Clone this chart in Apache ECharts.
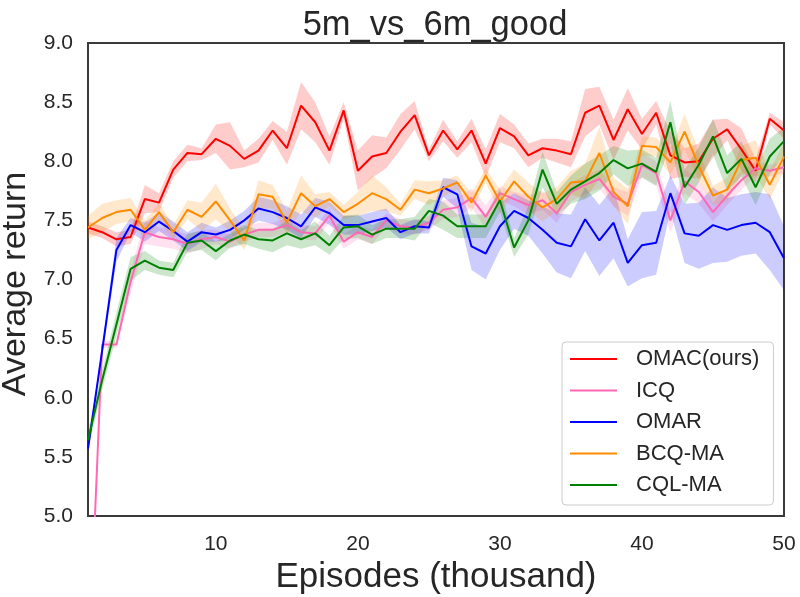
<!DOCTYPE html>
<html>
<head>
<meta charset="utf-8">
<title>5m_vs_6m_good</title>
<script src="https://cdn.jsdelivr.net/npm/echarts@6/dist/echarts.min.js"></script>
<style>
html, body { margin: 0; padding: 0; background: #fff; }
#chart { width: 800px; height: 597px; }
</style>
</head>
<body>
<div id="chart"></div>
<script>
// episodes (thousand)
var episodes = [1,2,3,4,5,6,7,8,9,10,11,12,13,14,15,16,17,18,19,20,21,22,23,24,25,
                26,27,28,29,30,31,32,33,34,35,36,37,38,39,40,41,42,43,44,45,46,47,48,49,50];
var xTickValues = [10, 20, 30, 40, 50];

// mean returns
var omac = [7.44,7.40,7.34,7.36,7.68,7.65,7.93,8.07,8.06,8.19,8.13,8.02,8.09,8.26,8.11,8.47,8.33,8.09,8.43,7.92,
            8.04,8.07,8.25,8.39,8.05,8.26,8.10,8.26,7.98,8.28,8.21,8.05,8.11,8.09,8.06,8.41,8.47,8.18,8.44,8.23,
            8.41,8.05,7.99,8.00,8.19,8.27,8.10,7.92,8.36,8.26];
var icq = [3.60,6.45,6.45,6.98,7.40,7.36,7.34,7.30,7.34,7.36,7.32,7.38,7.42,7.42,7.46,7.40,7.39,7.54,7.32,7.40,
           7.36,7.50,7.45,7.44,7.48,7.59,7.61,7.69,7.53,7.73,7.68,7.63,7.67,7.56,7.74,7.80,7.85,7.70,7.64,7.97,
           7.90,7.50,7.83,7.74,7.57,7.71,7.84,7.94,7.92,7.95];
var omar = [5.57,6.40,7.25,7.46,7.40,7.49,7.41,7.32,7.40,7.38,7.42,7.50,7.60,7.57,7.52,7.45,7.61,7.56,7.46,7.46,
            7.49,7.52,7.40,7.45,7.44,7.78,7.72,7.28,7.22,7.45,7.58,7.52,7.42,7.31,7.28,7.51,7.33,7.48,7.14,7.29,
            7.31,7.73,7.39,7.37,7.46,7.42,7.46,7.48,7.40,7.18];
var bcq = [7.44,7.52,7.57,7.59,7.42,7.57,7.40,7.59,7.53,7.66,7.50,7.33,7.72,7.70,7.48,7.73,7.62,7.68,7.57,7.64,
           7.73,7.68,7.59,7.76,7.73,7.77,7.82,7.65,7.88,7.66,7.83,7.70,7.61,7.68,7.82,7.83,8.07,7.74,7.62,8.13,
           8.12,7.99,8.25,7.96,7.71,7.76,8.01,8.03,7.80,8.04];
var cql = [5.64,6.15,6.62,7.09,7.16,7.10,7.08,7.31,7.33,7.24,7.33,7.38,7.34,7.33,7.39,7.34,7.39,7.29,7.44,7.45,
           7.38,7.43,7.43,7.43,7.58,7.54,7.45,7.45,7.45,7.67,7.27,7.50,7.93,7.64,7.76,7.83,7.90,8.01,7.94,7.98,
           7.91,8.33,7.78,7.97,8.21,7.90,8.02,7.78,8.04,8.17];

// half width of the shaded bands
var omacBand = [0.05,0.05,0.06,0.06,0.12,0.08,0.07,0.07,0.05,0.12,0.20,0.07,0.10,0.08,0.14,0.20,0.17,0.12,0.07,0.17,
                0.18,0.13,0.15,0.12,0.05,0.09,0.07,0.10,0.12,0.12,0.10,0.10,0.08,0.10,0.11,0.20,0.16,0.17,0.18,0.13,
                0.10,0.20,0.12,0.15,0.16,0.09,0.18,0.10,0.05,0.07];
var icqBand = [0.03,0.03,0.03,0.10,0.10,0.08,0.08,0.08,0.08,0.06,0.06,0.06,0.06,0.06,0.06,0.06,0.06,0.06,0.06,0.06,
               0.06,0.06,0.06,0.06,0.06,0.08,0.08,0.08,0.10,0.06,0.06,0.08,0.08,0.08,0.08,0.08,0.08,0.08,0.10,0.10,
               0.10,0.10,0.10,0.10,0.08,0.08,0.08,0.06,0.05,0.05];
var omarBand = [0.03,0.05,0.10,0.06,0.08,0.08,0.08,0.08,0.08,0.06,0.08,0.08,0.10,0.10,0.10,0.10,0.08,0.10,0.08,0.08,
                0.08,0.08,0.06,0.06,0.05,0.08,0.12,0.20,0.22,0.20,0.15,0.15,0.20,0.25,0.27,0.27,0.30,0.30,0.20,0.28,
                0.27,0.15,0.25,0.28,0.32,0.27,0.26,0.26,0.32,0.27];
var bcqBand = [0.10,0.12,0.10,0.10,0.08,0.08,0.06,0.08,0.12,0.15,0.10,0.08,0.12,0.10,0.10,0.15,0.10,0.06,0.06,0.10,
               0.15,0.10,0.05,0.08,0.10,0.07,0.06,0.08,0.06,0.10,0.10,0.12,0.12,0.10,0.10,0.15,0.22,0.12,0.15,0.08,
               0.08,0.10,0.15,0.12,0.08,0.10,0.12,0.15,0.12,0.12];
var cqlBand = [0.08,0.08,0.10,0.10,0.08,0.06,0.06,0.08,0.08,0.08,0.06,0.08,0.08,0.10,0.10,0.08,0.10,0.08,0.10,0.10,
               0.08,0.08,0.08,0.10,0.10,0.12,0.10,0.10,0.10,0.10,0.08,0.12,0.15,0.10,0.12,0.15,0.15,0.12,0.15,0.12,
               0.12,0.18,0.15,0.15,0.15,0.15,0.15,0.15,0.15,0.12];

var methods = [
    {name: 'OMAC(ours)', mean: omac, band: omacBand, color: '#ff0000', fill: 'rgba(255,0,0,0.2)'},
    {name: 'ICQ',        mean: icq,  band: icqBand,  color: '#ff69b4', fill: 'rgba(255,105,180,0.2)'},
    {name: 'OMAR',       mean: omar, band: omarBand, color: '#0000ff', fill: 'rgba(0,0,255,0.2)'},
    {name: 'BCQ-MA',     mean: bcq,  band: bcqBand,  color: '#ff8c00', fill: 'rgba(255,140,0,0.2)'},
    {name: 'CQL-MA',     mean: cql,  band: cqlBand,  color: '#008000', fill: 'rgba(0,128,0,0.2)'}
];

var textColor = '#262626';
var font = 'Liberation Sans, Arial, sans-serif';

var series = [];
methods.forEach(function (m, i) {
    var lower = m.mean.map(function (v, k) { return v - m.band[k]; });
    var width = m.band.map(function (b) { return 2 * b; });
    // band = invisible lower edge + stacked width with area fill
    series.push({
        name: m.name + ' low', type: 'line', data: lower, stack: 'band' + i,
        symbol: 'none', silent: true, lineStyle: {opacity: 0}, emphasis: {disabled: true}
    });
    series.push({
        name: m.name + ' band', type: 'line', data: width, stack: 'band' + i,
        symbol: 'none', silent: true, lineStyle: {opacity: 0},
        areaStyle: {color: m.fill, opacity: 1}, emphasis: {disabled: true}
    });
    series.push({
        name: m.name, type: 'line', data: m.mean, symbol: 'none',
        lineStyle: {color: m.color, width: 2}, itemStyle: {color: m.color},
        emphasis: {disabled: true}
    });
});

var option = {
    animation: false,
    backgroundColor: '#ffffff',
    textStyle: {fontFamily: font},
    title: {
        text: '5m_vs_6m_good',
        left: 430,
        top: 3,
        textAlign: 'center',
        textStyle: {fontSize: 34.5, fontWeight: 'normal', color: textColor, fontFamily: font}
    },
    grid: {
        left: 88, right: 16, top: 43, bottom: 81,
        outerBoundsMode: 'none',
        containLabel: false,
        show: true, borderColor: '#3a3a3a', borderWidth: 2, backgroundColor: '#ffffff'
    },
    legend: {
        data: methods.map(function (m) { return {name: m.name, icon: 'rect'}; }),
        orient: 'vertical',
        left: 562,
        top: 342,
        itemWidth: 47,
        itemHeight: 2,
        itemGap: 9.5,
        padding: [6, 14, 9, 8],
        backgroundColor: '#ffffff',
        borderColor: '#cccccc',
        borderWidth: 1,
        borderRadius: 4,
        selectedMode: false,
        textStyle: {fontSize: 22, lineHeight: 22, color: textColor, fontFamily: font, padding: [0, 0, 0, 14]}
    },
    xAxis: {
        type: 'category',
        data: episodes,
        boundaryGap: false,
        axisLine: {show: false},
        axisTick: {show: false},
        splitLine: {show: false},
        axisLabel: {
            interval: function (idx, val) { return xTickValues.indexOf(Number(val)) >= 0; },
            fontSize: 21, color: textColor, margin: 18, fontFamily: font
        },
        name: 'Episodes (thousand)',
        nameLocation: 'middle',
        nameGap: 40,
        nameTextStyle: {fontSize: 35, color: textColor, fontFamily: font}
    },
    yAxis: {
        type: 'value',
        min: 5,
        max: 9,
        interval: 0.5,
        axisLine: {show: false},
        axisTick: {show: false},
        splitLine: {show: false},
        axisLabel: {
            fontSize: 21, color: textColor, margin: 15, fontFamily: font,
            formatter: function (v) { return v.toFixed(1); }
        },
        name: 'Average return',
        nameLocation: 'middle',
        nameGap: 48,
        nameRotate: 90,
        nameTextStyle: {fontSize: 34, color: textColor, fontFamily: font, padding: [0, 9, 0, 0]}
    },
    series: series
};

var chart = echarts.init(document.getElementById('chart'));
chart.setOption(option);
</script>
</body>
</html>
